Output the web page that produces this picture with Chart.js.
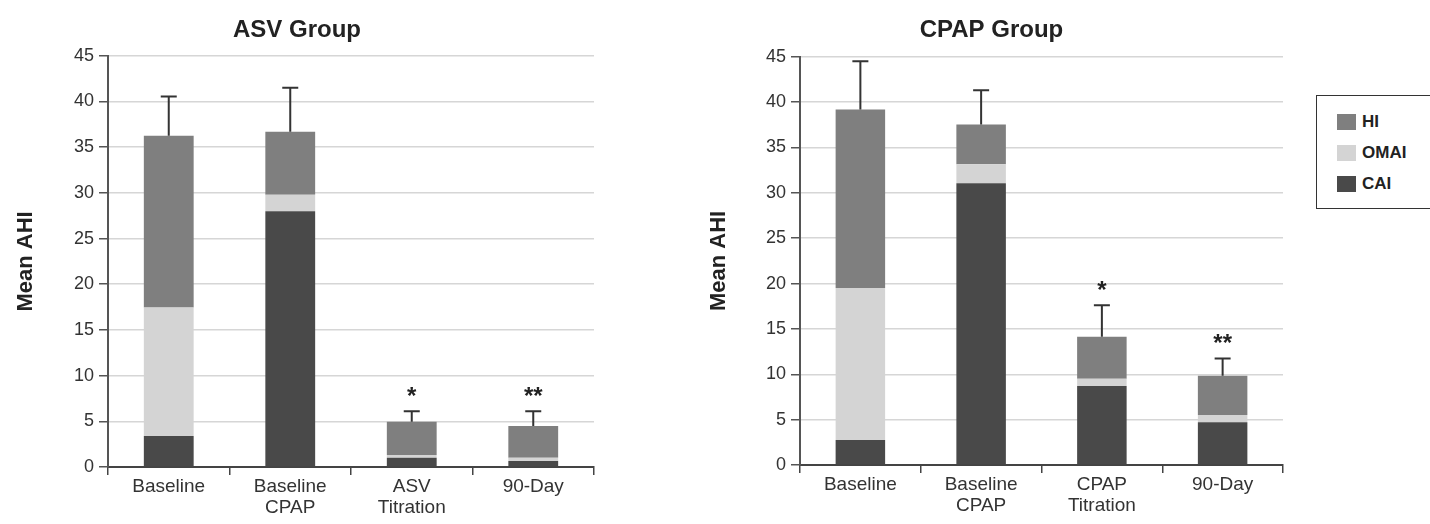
<!DOCTYPE html>
<html lang="en">
<head>
  <meta charset="UTF-8" />
  <title>Mean AHI by group</title>
  <script src="https://cdn.jsdelivr.net/npm/chart.js"></script>
  <style>
    body {
      margin: 0;
      width: 1430px;
      height: 524px;
      overflow: hidden;
      background: #fff;
      font-family: 'Liberation Sans', Arial, sans-serif;
      position: relative;
    }
    .chart-box { position: absolute; top: 0; height: 524px; }
    #asvBox { left: 0; width: 702px; }
    #cpapBox { left: 700px; width: 682px; }
    .legend {
      position: absolute;
      left: 1316px;
      top: 95px;
      width: 140px;
      height: 114px;
      border: 1.5px solid #333;
      box-sizing: border-box;
      background: #fff;
    }
    .legend-item {
      position: absolute;
      left: 20px;
      height: 18px;
      display: flex;
      align-items: center;
      font-weight: bold;
      font-size: 17px;
      color: #222;
    }
    .legend-item span.sw {
      width: 19px;
      height: 16px;
      margin-right: 6px;
      display: inline-block;
    }
  </style>
</head>
<body>
  <div class="chart-box" id="asvBox"><canvas id="asvChart" width="702" height="524"></canvas></div>
  <div class="chart-box" id="cpapBox"><canvas id="cpapChart" width="682" height="524"></canvas></div>
  <div class="legend" id="legend"></div>

  <script>
    // series names / colours (stack order: bottom to top)
    const seriesNames = ['CAI', 'OMAI', 'HI'];
    const seriesColors = ['#494949', '#d4d4d4', '#7f7f7f'];

    const yTicks = [0, 5, 10, 15, 20, 25, 30, 35, 40, 45];

    // ASV group
    const asvLabels = [['Baseline'], ['Baseline', 'CPAP'], ['ASV', 'Titration'], ['90-Day']];
    const asvCAI = [3.4, 28.0, 1.0, 0.65];
    const asvOMAI = [14.05, 1.8, 0.3, 0.35];
    const asvHI = [18.8, 6.9, 3.65, 3.5];
    const asvSD = [4.3, 4.8, 1.15, 1.6];
    const asvSig = ['', '', '*', '**'];

    // CPAP group
    const cpapLabels = [['Baseline'], ['Baseline', 'CPAP'], ['CPAP', 'Titration'], ['90-Day']];
    const cpapCAI = [2.75, 31.05, 8.7, 4.7];
    const cpapOMAI = [16.75, 2.1, 0.8, 0.8];
    const cpapHI = [19.7, 4.4, 4.65, 4.35];
    const cpapSD = [5.3, 3.75, 3.45, 1.9];
    const cpapSig = ['', '', '*', '**'];

    // error bars + significance stars on top of each stack
    const errorBars = {
      id: 'errorBars',
      afterDatasetsDraw(chart, args, opts) {
        const ctx = chart.ctx;
        const y = chart.scales.y;
        const topMeta = chart.getDatasetMeta(chart.data.datasets.length - 1);
        ctx.save();
        opts.sd.forEach((sd, i) => {
          const total = chart.data.datasets.reduce((s, d) => s + d.data[i], 0);
          const x = topMeta.data[i].x;
          const y0 = y.getPixelForValue(total);
          const y1 = y.getPixelForValue(total + sd);
          ctx.strokeStyle = '#333';
          ctx.lineWidth = 2;
          ctx.beginPath();
          ctx.moveTo(x, y0);
          ctx.lineTo(x, y1);
          ctx.moveTo(x - 8, y1);
          ctx.lineTo(x + 8, y1);
          ctx.stroke();
          if (opts.sig[i]) {
            ctx.fillStyle = '#222';
            ctx.font = 'bold 24px "Liberation Sans", Arial, sans-serif';
            ctx.textAlign = 'center';
            ctx.textBaseline = 'middle';
            ctx.fillText(opts.sig[i], x, y1 - 14);
          }
        });
        ctx.restore();
      }
    };

    function makeChart(id, title, labels, cai, omai, hi, sd, sig, geo) {
      const values = [cai, omai, hi];
      return new Chart(document.getElementById(id), {
        type: 'bar',
        data: {
          labels: labels,
          datasets: seriesNames.map((name, k) => ({
            label: name,
            data: values[k],
            backgroundColor: seriesColors[k],
            borderWidth: 0,
            barPercentage: 0.41,
            categoryPercentage: 1
          }))
        },
        plugins: [errorBars],
        options: {
          responsive: false,
          animation: false,
          layout: { padding: { left: 0, right: geo.padRight, top: 0, bottom: 0 } },
          plugins: {
            legend: { display: false },
            tooltip: { enabled: false },
            title: {
              display: true,
              text: title,
              color: '#222',
              font: { family: 'Liberation Sans', size: 24, weight: 'bold' },
              padding: { top: 16, bottom: geo.titleBottom }
            },
            errorBars: { sd: sd, sig: sig }
          },
          scales: {
            x: {
              stacked: true,
              afterFit: s => { s.height = geo.xHeight; },
              border: { color: '#444', width: 2 },
              grid: { drawOnChartArea: false, drawTicks: true, tickLength: 8, color: '#444', lineWidth: 1.5, offset: true },
              ticks: {
                color: '#333', padding: 1, maxRotation: 0, autoSkip: false,
                font: { family: 'Liberation Sans', size: 19, lineHeight: 1.1 }
              }
            },
            y: {
              stacked: true,
              min: 0,
              max: 45,
              afterFit: s => { s.width = geo.yWidth; },
              afterBuildTicks: s => { s.ticks = yTicks.map(v => ({ value: v })); },
              border: { color: '#555', width: 2 },
              grid: { color: '#d6d6d6', lineWidth: 1.5, drawTicks: true, tickLength: 9, tickColor: '#555' },
              ticks: {
                color: '#333', padding: 5,
                font: { family: 'Liberation Sans', size: 18 }
              },
              title: {
                display: true,
                text: 'Mean AHI',
                color: '#222',
                font: { family: 'Liberation Sans', size: 22, weight: 'bold' },
                padding: { top: geo.yTitlePad, bottom: 0 }
              }
            }
          }
        }
      });
    }

    makeChart('asvChart', 'ASV Group', asvLabels, asvCAI, asvOMAI, asvHI, asvSD, asvSig,
      { padRight: 108, yWidth: 108, xHeight: 57, titleBottom: 11, yTitlePad: 13 });
    makeChart('cpapChart', 'CPAP Group', cpapLabels, cpapCAI, cpapOMAI, cpapHI, cpapSD, cpapSig,
      { padRight: 99, yWidth: 100, xHeight: 59, titleBottom: 12, yTitlePad: 6 });

    // legend, top of stack first
    const legend = document.getElementById('legend');
    seriesNames.slice().reverse().forEach((name, i) => {
      const k = seriesNames.length - 1 - i;
      const item = document.createElement('div');
      item.className = 'legend-item';
      item.style.top = (17 + i * 31) + 'px';
      item.innerHTML = '<span class="sw" style="background:' + seriesColors[k] + '"></span>' + name;
      legend.appendChild(item);
    });
  </script>
</body>
</html>
